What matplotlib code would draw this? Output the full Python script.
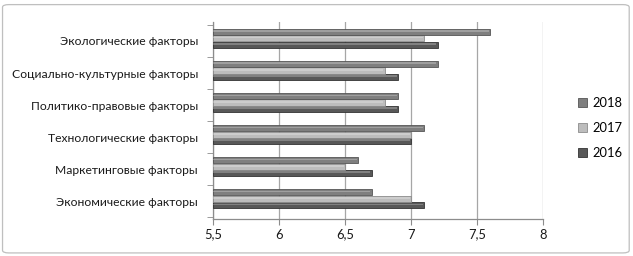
import numpy as np
import matplotlib
matplotlib.use("Agg")
import matplotlib.pyplot as plt
from matplotlib.patches import FancyBboxPatch
from matplotlib.ticker import FuncFormatter

# factors, bottom to top as drawn
categories = ["Экономические факторы", "Маркетинговые факторы",
              "Технологические факторы", "Политико-правовые факторы",
              "Социально-культурные факторы", "Экологические факторы"]
years = ["2018", "2017", "2016"]
vals_2018 = [6.7, 6.6, 7.1, 6.9, 7.2, 7.6]
vals_2017 = [7.0, 6.5, 7.0, 6.8, 6.8, 7.1]
vals_2016 = [7.1, 6.7, 7.0, 6.9, 6.9, 7.2]

colors = {"2018": "#7f7f7f", "2017": "#bdbdbd", "2016": "#585858"}
edges = {"2018": "#555555", "2017": "#8c8c8c", "2016": "#333333"}

plt.rcParams['font.family'] = ['Lato', 'DejaVu Sans']

fig = plt.figure(figsize=(6.33, 2.56), dpi=100)
ax = fig.add_axes([0.337, 0.145, 0.521, 0.77])

y = np.arange(len(categories))
h = 0.2
base = 5.5
# bars sit a little above the label line, like the 3d original
lift = 0.08
series = [("2016", vals_2016, -h), ("2017", vals_2017, 0.0), ("2018", vals_2018, h)]
for name, vals, off in series:
    v = np.array(vals)
    ax.barh(y + off + lift, v - base, left=base, height=h * 0.95,
            color=colors[name], edgecolor=edges[name], linewidth=0.6,
            label=name, zorder=3)
    # thin highlight to hint at the rounded 3d bars
    ax.barh(y + off + lift + h * 0.12, v - base - 0.01, left=base, height=h * 0.25,
            color="white", alpha=0.25, linewidth=0, zorder=4)

ax.set_xlim(5.5, 8.0)
ax.set_ylim(-0.55, 5.6)
ax.set_xticks(np.arange(5.5, 8.01, 0.5))
ax.xaxis.set_major_formatter(FuncFormatter(lambda v, p: ("%g" % v).replace(".", ",")))
ax.grid(axis="x", color="#a6a6a6", linewidth=0.9, zorder=0)
ax.set_yticks(y)
ax.set_yticklabels(categories)
ax.set_yticks(np.arange(-0.5, 5.6, 1.0), minor=True)
ax.tick_params(axis="y", which="major", length=0, pad=11, labelsize=8.7, labelcolor="#1a1a1a")
ax.tick_params(axis="y", which="minor", length=4, color="#8c8c8c")
ax.tick_params(axis="x", length=4, color="#8c8c8c", labelsize=9.3, labelcolor="#1a1a1a", pad=3)
for s in ["top", "right"]:
    ax.spines[s].set_visible(False)
for s in ["left", "bottom"]:
    ax.spines[s].set_color("#8c8c8c")
    ax.spines[s].set_linewidth(0.9)

handles, labels = ax.get_legend_handles_labels()
order = [labels.index(n) for n in years]
fig.legend([handles[i] for i in order], [labels[i] for i in order],
           loc="center left", bbox_to_anchor=(0.905, 0.5), frameon=False,
           fontsize=9.3, handlelength=0.7, handleheight=0.7, labelspacing=1.0,
           handletextpad=0.4, borderaxespad=0)

border = FancyBboxPatch((0.004, 0.012), 0.99, 0.97, boxstyle="round,pad=0,rounding_size=0.01",
                        transform=fig.transFigure, facecolor="none",
                        edgecolor="#bfbfbf", linewidth=0.9)
fig.patches.append(border)

fig.savefig("out.png", dpi=100)
